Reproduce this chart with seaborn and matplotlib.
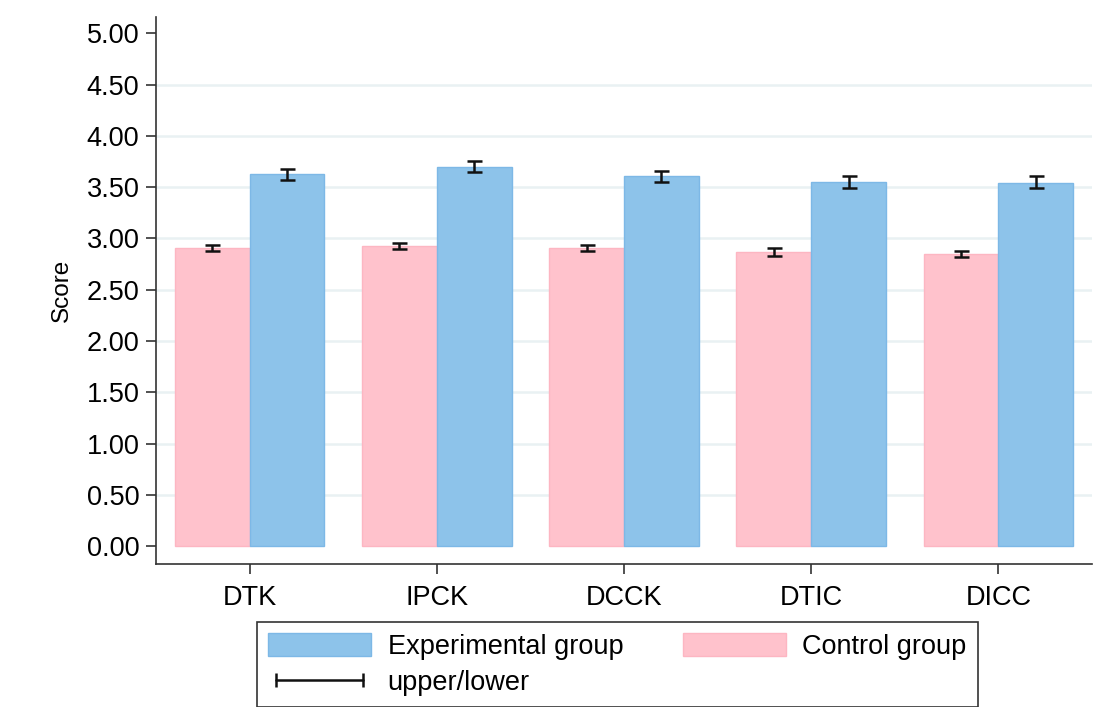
import matplotlib
matplotlib.use("Agg")
import matplotlib.pyplot as plt
import seaborn as sns
import pandas as pd
import numpy as np
from matplotlib.patches import Patch
from matplotlib.lines import Line2D

categories = ["DTK", "IPCK", "DCCK", "DTIC", "DICC"]
groups = ["Control group", "Experimental group"]
control_mean = [2.905, 2.927, 2.905, 2.865, 2.845]
control_upper = [2.940, 2.958, 2.932, 2.905, 2.880]
control_lower = [2.878, 2.898, 2.880, 2.833, 2.815]
exp_mean = [3.626, 3.700, 3.606, 3.551, 3.545]
exp_upper = [3.680, 3.755, 3.658, 3.614, 3.610]
exp_lower = [3.570, 3.648, 3.554, 3.496, 3.492]
yticks = [0.0, 0.5, 1.0, 1.5, 2.0, 2.5, 3.0, 3.5, 4.0, 4.5, 5.0]

pink = "#FFC2CC"
pink_edge = "#FDB6C2"
blue = "#8DC3EA"
blue_edge = "#7DB8E6"

sns.set_theme(style="white")
plt.rcParams["font.family"] = ["Liberation Sans", "DejaVu Sans"]
plt.rcParams["text.color"] = "black"
plt.rcParams["axes.labelcolor"] = "black"
plt.rcParams["xtick.color"] = "black"
plt.rcParams["ytick.color"] = "black"

df = pd.DataFrame({
    "cat": categories * 2,
    "group": [groups[0]] * 5 + [groups[1]] * 5,
    "score": control_mean + exp_mean,
})

fig = plt.figure(figsize=(11.09, 7.07), dpi=100)
ax = fig.add_axes([156 / 1109, 1 - 564 / 707, (1092 - 156) / 1109, (564 - 17) / 707])

for y in yticks[1:-1]:
    ax.axhline(y, color="#E9F1F3", lw=1.8, zorder=0)

sns.barplot(data=df, x="cat", y="score", hue="group", order=categories,
            hue_order=groups, palette=[pink, blue], width=0.8, ax=ax,
            errorbar=None, legend=False, saturation=1, zorder=2)

for i, patch in enumerate(ax.patches):
    patch.set_edgecolor(pink_edge if i < 5 else blue_edge)
    patch.set_linewidth(1.0)

# error bars from bar centers
centers = [p.get_x() + p.get_width() / 2 for p in ax.patches]
xs_c = centers[:5]
xs_e = centers[5:10]
for xs, means, up, lo in [(xs_c, control_mean, control_upper, control_lower),
                          (xs_e, exp_mean, exp_upper, exp_lower)]:
    m = np.array(means)
    yerr = np.array([m - np.array(lo), np.array(up) - m])
    ax.errorbar(xs, m, yerr=yerr, fmt="none", ecolor="#111111", elinewidth=1.8,
                capsize=5.4, capthick=1.8, zorder=3)

ax.set_xlim(-0.5, 4.5)
ax.set_ylim(-0.175, 5.16)
ax.set_yticks(yticks)
ax.set_yticklabels([f"{v:.2f}" for v in yticks])
ax.set_xlabel("")
ax.set_ylabel("Score", fontsize=17.5, labelpad=10)
ax.tick_params(axis="both", labelsize=19.5, length=7, width=1.2, color="#333333",
               labelcolor="black", direction="out", left=True, bottom=True)
ax.tick_params(axis="y", pad=5)
ax.tick_params(axis="x", pad=8)
for s in ["top", "right"]:
    ax.spines[s].set_visible(False)
for s in ["left", "bottom"]:
    ax.spines[s].set_color("#333333")
    ax.spines[s].set_linewidth(1.2)

handles = [
    Patch(facecolor=blue, edgecolor=blue_edge, label="Experimental group"),
    Line2D([0], [0], color="#111111", lw=1.8, marker="|", markersize=10,
           markeredgewidth=1.8, label="upper/lower"),
    Patch(facecolor=pink, edgecolor=pink_edge, label="Control group"),
]
leg = fig.legend(handles=handles, ncol=2, loc="upper left",
                 bbox_to_anchor=(257 / 1109, 1 - 622 / 707),
                 fontsize=19.5, frameon=True, fancybox=False,
                 edgecolor="#333333", framealpha=1, numpoints=2,
                 handlelength=3.8, handleheight=0.95, handletextpad=0.62,
                 columnspacing=2.2, borderpad=0.4, labelspacing=0.35,
                 borderaxespad=0)
leg.get_frame().set_linewidth(1.2)

fig.savefig("out.png", dpi=100)
